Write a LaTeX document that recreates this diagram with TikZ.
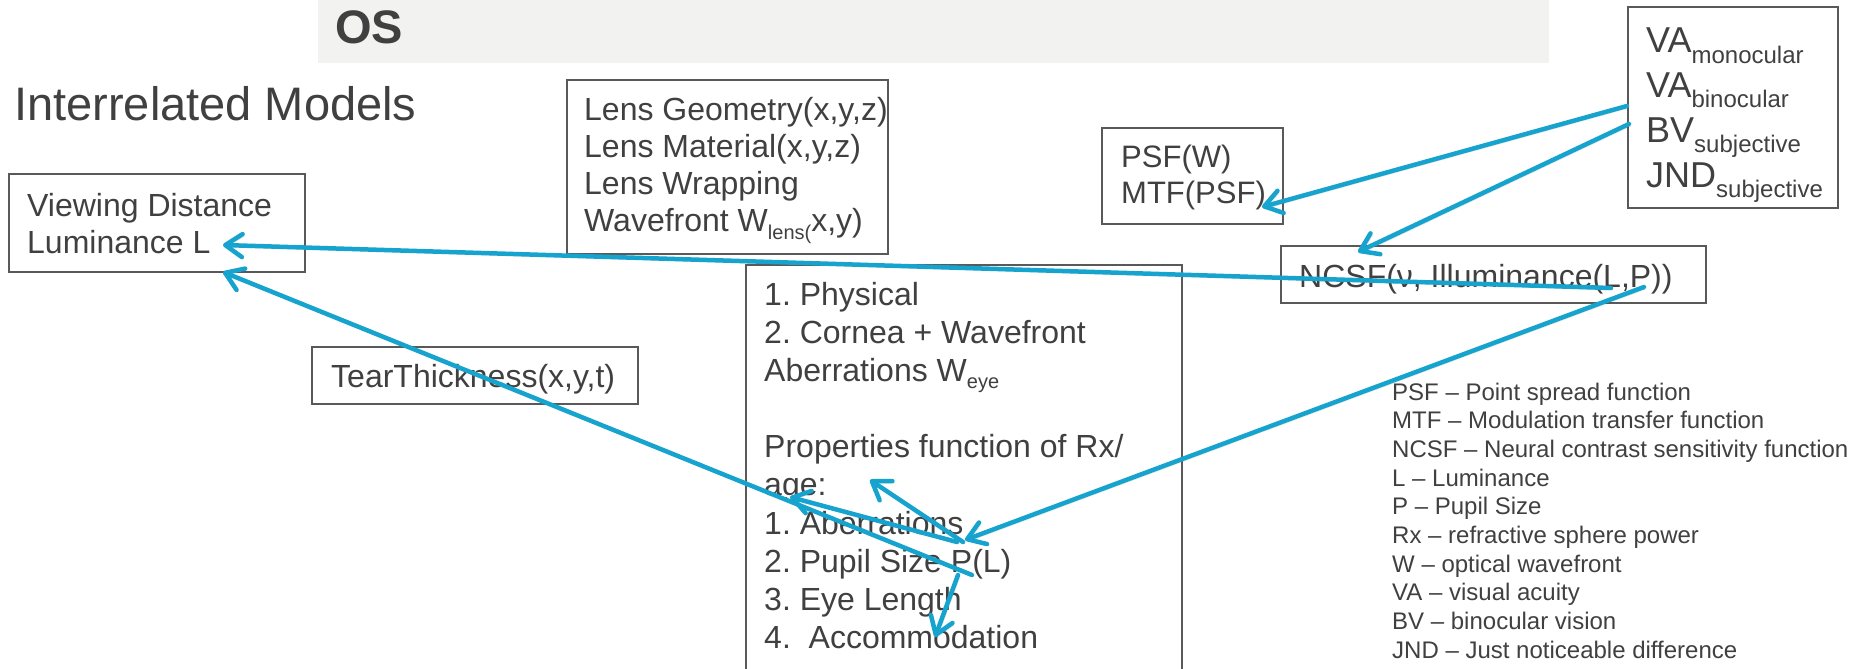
\documentclass[tikz,border=0pt]{standalone}
\usepackage{fontspec}
\setmainfont{Liberation Sans}
\usetikzlibrary{arrows.meta}

\definecolor{banner}{RGB}{242,242,240}
\definecolor{ink}{RGB}{64,64,64}
\definecolor{frame}{RGB}{89,89,89}
\definecolor{linkblue}{RGB}{22,163,206}

% font size in points (1pt = one unit of the picture)
\newcommand\px[1]{\fontsize{#1}{#1}\selectfont}
% lowered, smaller text: drop, size, text
\newcommand\lowered[3]{\raisebox{-#1pt}{\px{#2}#3}}

\begin{document}
\frenchspacing
\begin{tikzpicture}[x=1pt,y=-1pt,
  box/.style={draw=frame,line width=1.8pt,inner sep=0pt,anchor=north west},
  txt/.style={anchor=base west,inner sep=0pt,text=ink},
  link/.style={draw=linkblue,line width=4.5pt,line cap=round,
    -{Straight Barb[length=17pt,width=23pt,line cap=round,line join=round]},
    preaction={draw=black,opacity=0.12,transform canvas={shift={(2,2)}}}},
]
\useasboundingbox (0,0) rectangle (1866,669);
\clip (0,0) rectangle (1866,669);
\fill[white] (0,0) rectangle (1866,669);

% title banner
\fill[banner] (318,0) rectangle (1549,63);
\node[txt,font=\px{47}\bfseries] (os) at (335,44) {OS};
\node[txt,font=\px{47}] (title) at (14,120) {Interrelated Models};

% boxes
\node[box,minimum width=296pt,minimum height=98pt] (vd) at (8,173) {};
\node[box,minimum width=321pt,minimum height=174pt] (lens) at (566,79) {};
\node[box,minimum width=181pt,minimum height=96pt] (psf) at (1101,127) {};
\node[box,minimum width=210pt,minimum height=201pt] (va) at (1627,6) {};
\node[box,minimum width=425pt,minimum height=57pt] (ncsf) at (1280,245) {};
\node[box,minimum width=326pt,minimum height=57pt] (tear) at (311,346) {};
\node[box,minimum width=436pt,minimum height=430pt] (eye) at (745,264) {};

% box texts
\node[txt,font=\px{32}] (vd-1) at (27,216) {Viewing Distance};
\node[txt,font=\px{32}] (vd-2) at (27,253) {Luminance L};

\foreach \yy/\tt [count=\i] in {120/{Lens Geometry(x,y,z)},157/{Lens Material(x,y,z)},
    194/{Lens Wrapping},231/{Wavefront W\lowered{8}{20}{lens(}x,y)}}
  \node[txt,font=\px{32}] (lens-\i) at (584,\yy) {\tt};

\node[txt,font=\px{31}] (psf-1) at (1121,167) {PSF(W)};
\node[txt,font=\px{31}] (psf-2) at (1121,203) {MTF(PSF)};

\foreach \yy/\tt [count=\i] in {53/{VA\lowered{10}{24}{monocular}},97/{VA\lowered{10}{24}{binocular}},
    142/{BV\lowered{10}{24}{subjective}},187/{JND\lowered{10}{24}{subjective}}}
  \node[txt,font=\px{36}] (va-\i) at (1646,\yy) {\tt};

\node[txt,font=\px{32}] (ncsf-1) at (1299,287) {NCSF(ν, Illuminance(L,P))};
\node[txt,font=\px{32}] (tear-1) at (331,387) {TearThickness(x,y,t)};

\foreach \yy/\tt [count=\i] in {305/{1. Physical},343/{2. Cornea + Wavefront},
    381/{Aberrations W\lowered{7}{20}{eye}},457/{Properties function of Rx/},
    495/{age:},534/{1. Aberrations},572/{2. Pupil Size P(L)},
    610/{3. Eye Length},648/{4.\ \ Accommodation}}
  \node[txt,font=\px{32}] (eye-\i) at (764,\yy) {\tt};

% legend
\foreach \tt [count=\i from 0] in {{PSF – Point spread function},{MTF – Modulation transfer function},
    {NCSF – Neural contrast sensitivity function},{L – Luminance},{P – Pupil Size},
    {Rx – refractive sphere power},{W – optical wavefront},{VA – visual acuity},
    {BV – binocular vision},{JND – Just noticeable difference}}
  \node[txt,font=\px{24}] (legend-\i) at (1392,400+28.7*\i) {\tt};

% connector end points inside the boxes
\coordinate (vd-inA) at (223,245);
\coordinate (vd-inB) at (223,272);
\coordinate (psf-in) at (1262,207);
\coordinate (ncsf-in) at (1358,252);
\coordinate (ncsf-outA) at (1611,288);
\coordinate (ncsf-outB) at (1644,287);
\coordinate (va-outA) at (1627,106);
\coordinate (va-outB) at (1629,124);
\coordinate (eye-pupilA) at (972,575);
\coordinate (eye-pupilB) at (958,575);
\coordinate (eye-aberA) at (963,542);
\coordinate (eye-aberB) at (957,542);
\coordinate (eye-in) at (965,540);
\coordinate (eye-prop) at (870,480);
\coordinate (eye-age) at (790,497);
\coordinate (eye-acc) at (935,637);

% connectors
\draw[link] (ncsf-outA) -- (vd-inA);
\draw[link] (eye-pupilA) -- (vd-inB);
\draw[link] (va-outA) -- (psf-in);
\draw[link] (va-outB) -- (ncsf-in);
\draw[link] (ncsf-outB) -- (eye-in);
\draw[link] (eye-aberA) -- (eye-prop);
\draw[link] (eye-aberB) -- (eye-age);
\draw[link] (eye-pupilB) -- (eye-acc);
\end{tikzpicture}
\end{document}
